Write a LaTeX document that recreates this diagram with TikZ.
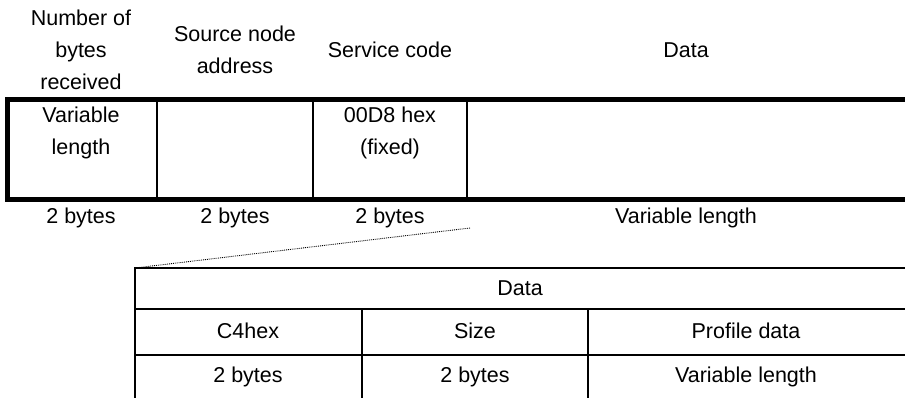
\documentclass[tikz,border=0pt]{standalone}
\usepackage{fontspec}
\setmainfont{Liberation Sans}
\usetikzlibrary{positioning}

\begin{document}
\begin{tikzpicture}[x=1pt,y=-1pt,
      every node/.style={align=center,inner sep=0pt,font=\fontsize{21.5}{32}\selectfont},
      frame/.style={line width=5pt},
      grid/.style={line width=1.6pt},
      zoomline/.style={densely dotted,line width=0.9pt}]
\useasboundingbox (0,0) rectangle (905,398);

      % upper frame
      \draw[grid] (157,99.5) -- (157,199.5) (313,99.5) -- (313,199.5) (467,99.5) -- (467,199.5);
      \draw[frame] (905,99.5) -- (7.5,99.5) -- (7.5,199.5) -- (905,199.5);

      \node (NumBytes) at (81,50)  {Number of\\bytes\\received};
      \node (SrcAddr)  at (235,50) {Source node\\address};
      \node (SvcCode)  at (390,50) {Service code};
      \node (Data)     at (686,50) {Data};

      \node (VarLen)   at (81,132.5)  {Variable\\length};
      \node (Fixed)    at (390,132.5) {00D8 hex\\(fixed)};

      \node (SizeA)    at (81,218)  {2 bytes};
      \node (SizeB)    at (235,218) {2 bytes};
      \node (SizeC)    at (390,218) {2 bytes};
      \node (SizeD)    at (686,218) {Variable length};

      % lower frame
      \coordinate (SubCorner) at (135,268);
      \coordinate (DataFoot)  at (470,228);
      \draw[grid] (905,268) -- (SubCorner) -- (135,398)
                  (135,309) -- (905,309) (135,355) -- (905,355)
                  (362,309) -- (362,398) (588,309) -- (588,398);

      \node (SubData)  at (520,288.5) {Data};
      \node (C4)       at (248,331)   {C4hex};
      \node (SizeFld)  at (475,331)   {Size};
      \node (Profile)  at (746,331)   {Profile data};
      \node (C4Len)    at (248,377)   {2 bytes};
      \node (SizeLen)  at (475,377)   {2 bytes};
      \node (ProfLen)  at (746,377)   {Variable length};

      \path[zoomline] (DataFoot) edge (SubCorner);

\end{tikzpicture}
\end{document}
